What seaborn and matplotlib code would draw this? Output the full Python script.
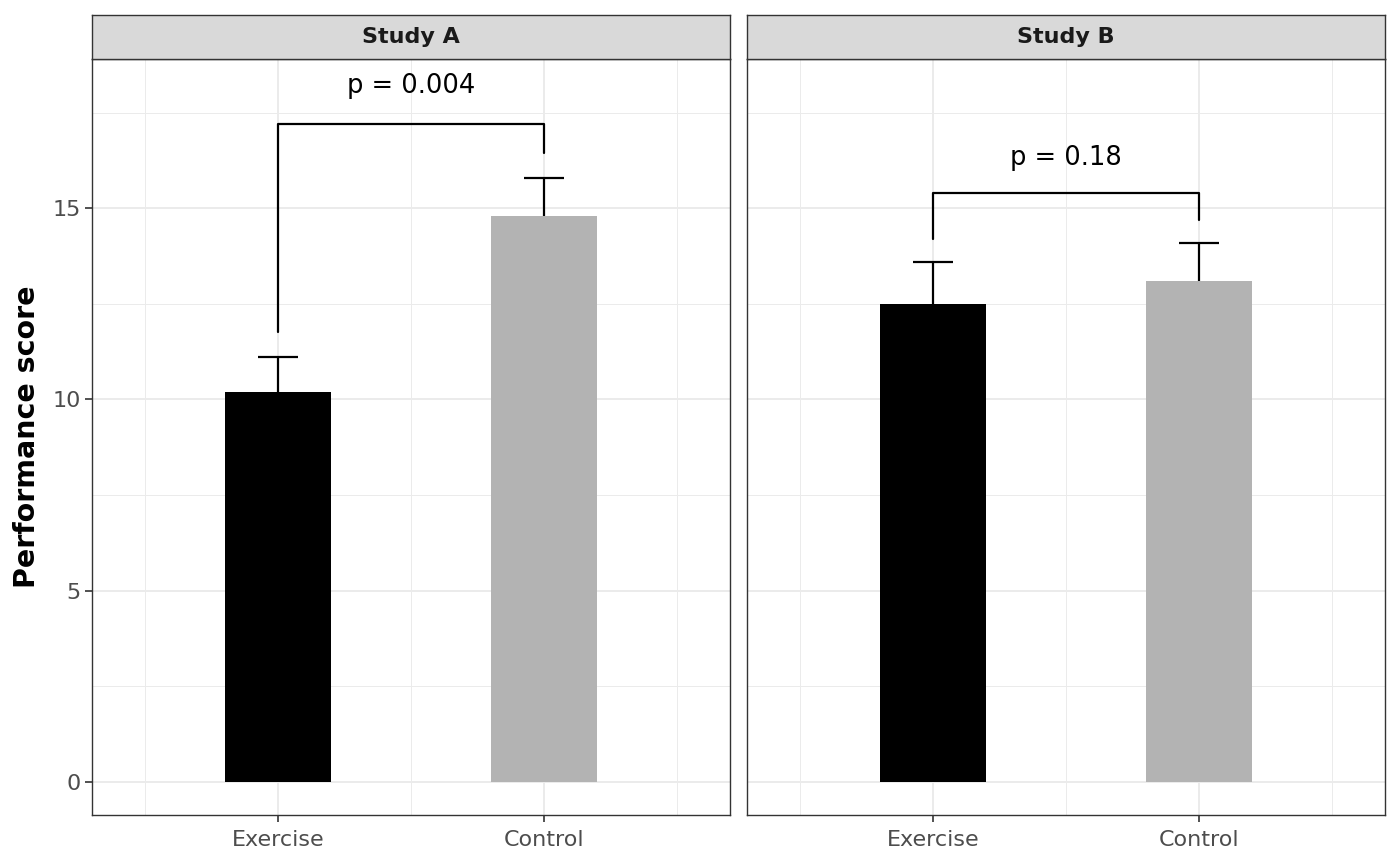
import numpy as np
import pandas as pd
import seaborn as sns
import matplotlib.pyplot as plt
from matplotlib.ticker import FixedLocator

# data
studies = ['Study A', 'Study B']
groups = ['Exercise', 'Control']
means_a = [10.2, 14.8]
means_b = [12.5, 13.1]
se_a = [0.9, 1.0]
se_b = [1.1, 1.0]
p_labels = ['p = 0.004', 'p = 0.18']
bracket_top = [17.2, 15.4]
bracket_left_end = [11.75, 14.2]
bracket_right_end = [16.45, 14.7]
p_text_y = [18.2, 16.3]

df = pd.DataFrame({
    'study': np.repeat(studies, 2),
    'group': groups * 2,
    'mean': means_a + means_b,
    'se': se_a + se_b,
})

sns.set_theme(style='white')
plt.rcParams['font.family'] = ['DejaVu Sans']

W, H = 1400, 866
fig = plt.figure(figsize=(14, 8.66), dpi=100)
palette = {'Exercise': '#000000', 'Control': '#B3B3B3'}

panel_left = [92, 747]
panel_w = 638
panel_top, panel_bottom = 59, 815
strip_top = 15
cap_half = 0.075

for i, st in enumerate(studies):
    x0 = panel_left[i]
    ax = fig.add_axes([x0 / W, (H - panel_bottom) / H, panel_w / W, (panel_bottom - panel_top) / H])
    strip = fig.add_axes([x0 / W, (H - panel_top) / H, panel_w / W, (panel_top - strip_top) / H])

    sub = df[df['study'] == st]
    ax.set_axisbelow(True)
    sns.barplot(data=sub, x='group', y='mean', hue='group', palette=palette,
                order=groups, width=0.4, errorbar=None, legend=False, ax=ax,
                saturation=1, linewidth=0)
    # upper error bars only
    xs = np.arange(len(groups))
    tops = sub['mean'].values + sub['se'].values
    ax.vlines(xs, sub['mean'].values, tops, color='black', lw=1.6, zorder=3)
    ax.hlines(tops, xs - cap_half, xs + cap_half, color='black', lw=1.6, zorder=3)

    # significance bracket
    ax.plot([0, 0, 1, 1],
            [bracket_left_end[i], bracket_top[i], bracket_top[i], bracket_right_end[i]],
            color='black', lw=1.6, zorder=4)
    ax.text(0.5, p_text_y[i], p_labels[i], ha='center', va='center', fontsize=18.5,
            color='black')

    ax.set_xlim(-0.7, 1.7)
    ax.set_ylim(-0.87, 18.9)
    ax.yaxis.set_major_locator(FixedLocator([0, 5, 10, 15]))
    ax.yaxis.set_minor_locator(FixedLocator([2.5, 7.5, 12.5, 17.5]))
    ax.xaxis.set_minor_locator(FixedLocator([-0.5, 0.5, 1.5]))
    ax.grid(which='major', color='#EBEBEB', lw=1.4)
    ax.grid(which='minor', color='#EBEBEB', lw=0.7)
    for sp in ax.spines.values():
        sp.set_color('#333333')
        sp.set_linewidth(1.0)
    ax.tick_params(axis='both', which='major', length=5, width=1.2, color='#333333',
                   labelsize=16, labelcolor='#4D4D4D', left=True, bottom=True, pad=3)
    ax.tick_params(axis='x', pad=6)
    ax.tick_params(which='minor', length=0)
    ax.set_xlabel('')
    if i == 0:
        ax.set_ylabel('Performance score', fontsize=20.5, fontweight='bold',
                      color='black', labelpad=8)
    else:
        ax.set_ylabel('')
        ax.tick_params(axis='y', left=False, labelleft=False)

    strip.set_facecolor('#D9D9D9')
    strip.set_xticks([])
    strip.set_yticks([])
    for sp in strip.spines.values():
        sp.set_color('#333333')
        sp.set_linewidth(1.0)
    strip.text(0.5, 0.5, st, ha='center', va='center', fontsize=16,
               fontweight='bold', color='#1A1A1A', transform=strip.transAxes)

fig.savefig('out.png', dpi=100)
